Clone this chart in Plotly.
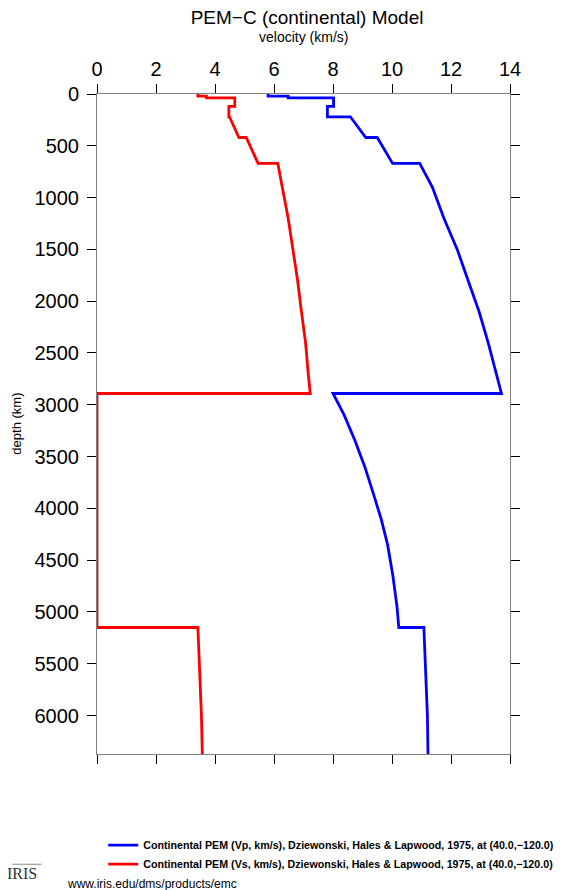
import plotly.graph_objects as go

# PEM-C profile, depth in km (repeated depths = discontinuities)
depth = [0, 20, 20, 38, 38, 120, 120, 220, 220, 420, 420, 670, 670,
         900, 1200, 1500, 1800, 2100, 2400, 2700, 2891, 2891,
         3100, 3350, 3600, 3850, 4100, 4350, 4650, 4950, 5150, 5150,
         5620, 6000, 6371]
vp = [5.80, 5.80, 6.48, 6.48, 8.02, 8.02, 7.81, 7.81, 8.59, 9.11, 9.50, 10.02, 10.94,
      11.37, 11.76, 12.21, 12.58, 12.95, 13.26, 13.52, 13.71, 8.00,
      8.38, 8.75, 9.08, 9.36, 9.63, 9.85, 10.03, 10.17, 10.23, 11.08,
      11.16, 11.20, 11.22]
vs = [3.42, 3.42, 3.71, 3.71, 4.67, 4.67, 4.47, 4.47, 4.49, 4.81, 5.06, 5.46, 6.13,
      6.28, 6.48, 6.64, 6.80, 6.93, 7.07, 7.16, 7.23, 0.0,
      0.0, 0.0, 0.0, 0.0, 0.0, 0.0, 0.0, 0.0, 0.0, 3.42,
      3.50, 3.54, 3.57]

depth_ticks = list(range(0, 6001, 500))
vel_ticks = list(range(0, 15, 2))

label_vp = "Continental PEM (Vp, km/s), Dziewonski, Hales & Lapwood, 1975, at (40.0,\u2212120.0)"
label_vs = "Continental PEM (Vs, km/s), Dziewonski, Hales & Lapwood, 1975, at (40.0,\u2212120.0)"

FONT = "Liberation Sans, Arial, Helvetica, sans-serif"

fig = go.Figure()
fig.add_trace(go.Scatter(x=vp, y=depth, mode="lines", name=label_vp,
                         line=dict(color="#0000ff", width=2.8)))
fig.add_trace(go.Scatter(x=vs, y=depth, mode="lines", name=label_vs,
                         line=dict(color="#ff0000", width=2.8)))

axis_common = dict(showline=True, linecolor="#808080", linewidth=1,
                   ticks="outside", ticklen=9, tickcolor="black", tickwidth=1,
                   mirror="ticks", showgrid=False, zeroline=False,
                   tickfont=dict(size=20, color="black", family=FONT))

fig.update_xaxes(range=[0, 14], tickvals=vel_ticks, side="top", **axis_common)
fig.update_yaxes(range=[6371, 0], tickvals=depth_ticks, ticklabelstandoff=4,
                 **axis_common)

# the page body has an 8px margin, so the figure is 8px smaller and margins
# are reduced by 8 to keep the plot box where the reference has it
fig.update_layout(
    width=559, height=882,
    margin=dict(l=89, r=57, t=86, b=136, autoexpand=False),
    paper_bgcolor="white", plot_bgcolor="white",
    font=dict(family=FONT, color="black"),
    title=dict(text="PEM\u2212C (continental) Model", x=0.535, xanchor="center",
               yref="container", y=1 - 3 / 882, yanchor="top", pad=dict(t=0, b=0),
               font=dict(size=19, color="black", family=FONT)),
    showlegend=True,
    legend=dict(x=0.015, y=-0.116, xanchor="left", yanchor="top",
                bgcolor="rgba(0,0,0,0)", tracegroupgap=0,
                font=dict(size=10.7, color="black", family=FONT, weight="bold")),
    annotations=[
        dict(text="velocity (km/s)", xref="paper", yref="paper", x=0.5, y=1.087,
             xanchor="center", yanchor="middle", showarrow=False,
             font=dict(size=14, color="black", family=FONT)),
        dict(text="depth (km)", xref="paper", yref="paper", x=-0.197, y=0.5,
             xanchor="center", yanchor="middle", textangle=-90, showarrow=False,
             font=dict(size=13, color="black", family=FONT)),
        dict(text="IRIS", xref="paper", yref="paper", x=-0.182, y=-0.181,
             xanchor="center", yanchor="middle", showarrow=False,
             font=dict(size=16, color="#333333", family="Liberation Serif, DejaVu Serif, serif")),
        dict(text="www.iris.edu/dms/products/emc", xref="paper", yref="paper",
             x=-0.0775, y=-0.197, xanchor="left", yanchor="middle", showarrow=False,
             font=dict(size=12, color="black", family=FONT)),
    ],
    shapes=[
        dict(type="line", xref="paper", yref="paper", x0=-0.205, x1=-0.134,
             y0=-0.167, y1=-0.167, line=dict(color="#888888", width=1)),
    ],
)

fig.write_html("out.html")
